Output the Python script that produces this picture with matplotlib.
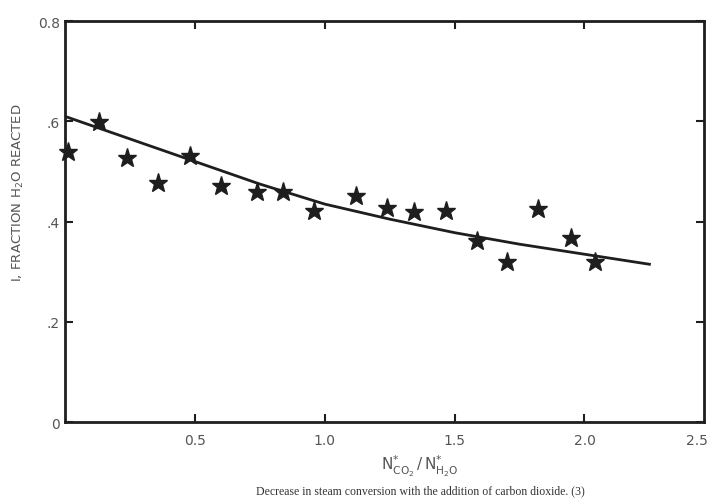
import numpy as np
import matplotlib.pyplot as plt

# star data points
ratio = [0.01, 0.13, 0.24, 0.36, 0.48, 0.60, 0.74, 0.84, 0.96, 1.12,
         1.24, 1.345, 1.465, 1.585, 1.70, 1.82, 1.95, 2.04]
frac = [0.539, 0.599, 0.527, 0.477, 0.531, 0.471, 0.459, 0.459, 0.421, 0.451,
        0.427, 0.419, 0.421, 0.361, 0.319, 0.425, 0.367, 0.319]

# smooth trend curve
curve_x = [0.0, 0.25, 0.5, 0.75, 1.0, 1.25, 1.5, 1.75, 2.0, 2.25]
curve_y = [0.61, 0.565, 0.52, 0.475, 0.435, 0.405, 0.378, 0.355, 0.335, 0.315]

xticks = [0.5, 1.0, 1.5, 2.0]
yticks = [0, 0.2, 0.4, 0.6, 0.8]
ylabels = ["0", ".2", ".4", ".6", "0.8"]

ink = "#1e1e1e"
fig = plt.figure(figsize=(7.1, 5.02), dpi=100)
ax = fig.add_axes([0.0915, 0.157, 0.9, 0.799])

ax.plot(curve_x, curve_y, color=ink, lw=2.0)
ax.plot(ratio, frac, ls="none", marker="*", ms=14, color=ink, clip_on=False)

ax.set_xlim(0, 2.46)
ax.set_ylim(0, 0.8)
ax.set_xticks(xticks)
ax.set_xticklabels(["0.5", "1.0", "1.5", "2.0"])
ax.set_yticks(yticks)
ax.set_yticklabels(ylabels)
ax.tick_params(direction="in", length=6, width=1.5, colors=ink,
               labelcolor="#555555", labelsize=10, top=True, right=True)
ax.tick_params(axis="x", pad=8)
for s in ax.spines.values():
    s.set_linewidth(2)
    s.set_color(ink)

# "2.5" label squeezed against the right edge, as in the scan
fig.text(708 / 710, 1 - 441 / 502, "2.5", ha="right", va="center",
         fontsize=10, color="#555555")

fig.text(18 / 710, 1 - 193 / 502, "I, FRACTION H$_2$O REACTED", rotation=90,
         ha="center", va="center", fontsize=9.5, color="#555555")
fig.text(420 / 710, 1 - 466 / 502,
         r"N$^{*}_{\mathrm{CO_2}}$$\,/\,$N$^{*}_{\mathrm{H_2O}}$",
         ha="center", va="center", fontsize=11, color="#555555")
fig.text(420 / 710, 1 - 491 / 502,
         "Decrease in steam conversion with the addition of carbon dioxide. (3)",
         ha="center", va="center", fontsize=8.5, color="#333333",
         family="Liberation Serif")

fig.savefig("out.png", dpi=100)
